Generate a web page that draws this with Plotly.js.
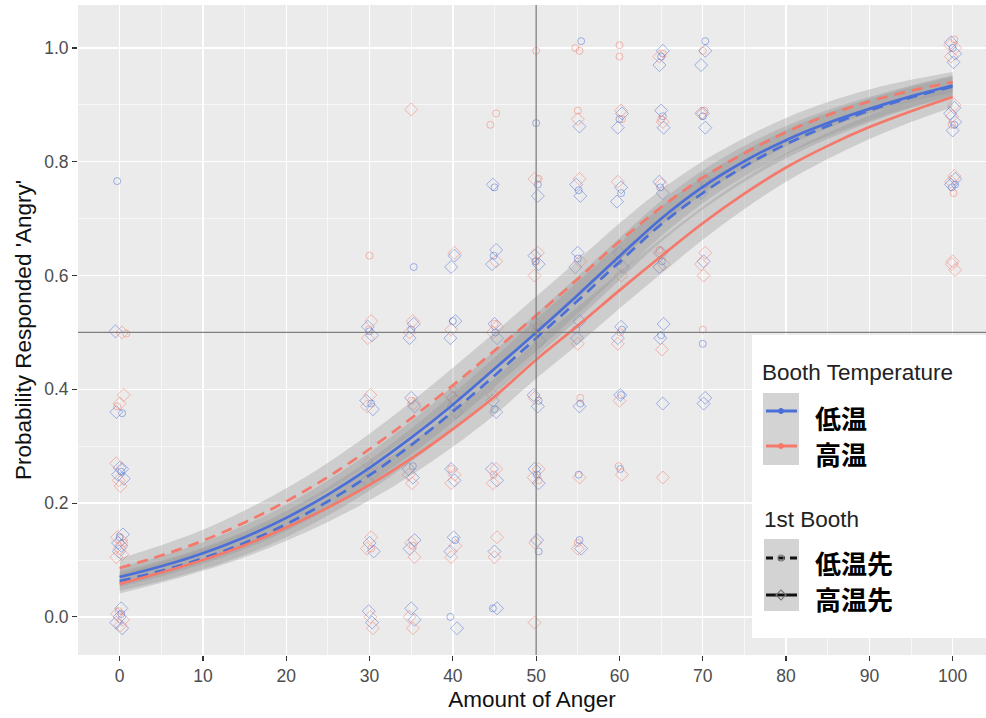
<!DOCTYPE html>
<html><head><meta charset="utf-8">
<script src="https://cdn.plot.ly/plotly-3.0.1.min.js"></script>
<style>body{margin:0;background:#fff}#chart{width:986px;height:718px}</style>
</head><body><div id="chart"></div>
<script>
// ---- fitted curves ----
const curveX = [0,5,10,15,20,25,30,35,40,45,50,55,60,65,70,75,80,85,90,95,100];
const lowTempLowFirst  = [0.063,0.081,0.103,0.130,0.163,0.203,0.249,0.302,0.361,0.424,0.490,0.556,0.624,0.690,0.745,0.792,0.831,0.863,0.890,0.913,0.932];
const lowTempHighFirst = [0.070,0.089,0.112,0.140,0.174,0.215,0.262,0.315,0.373,0.436,0.500,0.566,0.634,0.700,0.756,0.801,0.838,0.868,0.893,0.915,0.934];
const highTempLowFirst = [0.086,0.108,0.134,0.166,0.203,0.246,0.295,0.349,0.407,0.468,0.530,0.594,0.660,0.720,0.772,0.815,0.852,0.882,0.906,0.925,0.940];
const highTempHighFirst= [0.058,0.078,0.100,0.126,0.157,0.192,0.232,0.278,0.330,0.387,0.452,0.512,0.574,0.634,0.692,0.744,0.790,0.828,0.861,0.889,0.914];
const ciHalf = [0.017,0.018,0.019,0.021,0.023,0.025,0.027,0.029,0.031,0.032,0.033,0.033,0.032,0.031,0.029,0.027,0.025,0.023,0.021,0.019,0.018];

// ---- jittered observations ----
// blue (低温) diamonds (高温先)
const blueDiamondX = [-0.5,-0.4,0.3,-0.2,0.5,0.0,0.4,-0.2,0.2,-0.1,0.2,-0.4,0.0,0.3,
 29.8,30.3,29.6,30.4,30.2,29.7,30.0,30.5,29.9,30.3,
 35.3,34.8,35.0,35.4,34.7,35.2,35.4,34.8,35.0,35.4,
 40.2,39.8,40.3,39.7,40.0,40.4,39.8,40.2,40.1,39.7,40.5,
 44.8,45.2,44.7,45.0,45.3,44.8,45.2,44.7,45.3,45.0,45.3,
 50.2,49.8,50.3,50.0,50.4,49.7,50.2,49.8,50.3,50.1,
 55.2,54.8,55.3,55.0,54.7,55.2,54.9,55.2,55.4,
 60.3,59.8,60.2,59.7,60.0,60.4,60.2,59.8,60.1,
 65.2,64.8,65.0,65.3,64.8,65.2,65.0,64.8,65.3,64.9,65.2,
 70.3,69.8,70.0,70.3,70.2,69.8,70.1,70.3,70.1,
 99.8,100.3,100.1,99.7,100.3,100.0,100.2,100.3,99.8];
const blueDiamondY = [0.502,0.36,0.26,0.25,0.243,0.262,0.145,0.13,0.125,0.115,0.015,-0.01,0.0,-0.02,
 0.51,0.495,0.38,0.365,0.26,0.24,0.13,0.115,0.01,-0.01,
 0.515,0.49,0.385,0.37,0.26,0.245,0.135,0.12,0.015,-0.005,
 0.635,0.615,0.52,0.49,0.385,0.36,0.26,0.24,0.14,0.115,-0.02,
 0.76,0.645,0.62,0.515,0.49,0.38,0.36,0.26,0.24,0.115,0.015,
 0.74,0.635,0.62,0.515,0.485,0.39,0.37,0.26,0.235,0.135,
 0.862,0.76,0.74,0.64,0.615,0.52,0.49,0.37,0.12,
 0.885,0.86,0.755,0.73,0.64,0.615,0.51,0.49,0.39,
 0.995,0.97,0.89,0.86,0.765,0.745,0.64,0.615,0.515,0.49,0.375,
 0.995,0.97,0.885,0.86,0.765,0.745,0.625,0.385,0.375,
 1.01,0.99,0.975,0.885,0.87,0.855,0.895,0.77,0.76];
// blue (低温) circles (低温先)
const blueCircleX = [-0.3,0.3,0.2,0.0,0.2, 30.0,30.2, 35.3,35.0,35.2, 40.0,39.8,40.3,39.7,
 45.0,44.9,45.1,45.0,44.8, 50.0,50.2,49.9,50.0,50.3,50.1,50.3,
 55.4,55.1,55.0,54.8,55.3,55.1,55.2, 60.0,60.2,59.9,60.3,60.2,60.1,
 65.0,65.2,64.9,65.1,65.0, 70.3,70.0,70.2,70.0, 100.0,100.2,99.9,100.3];
const blueCircleY = [0.766,0.358,0.255,0.14,0.005, 0.502,0.375, 0.615,0.505,0.265, 0.52,0.37,0.135,0.0,
 0.755,0.635,0.5,0.365,0.015, 0.868,0.76,0.625,0.5,0.38,0.25,0.115,
 1.012,0.75,0.63,0.505,0.375,0.25,0.135, 0.875,0.745,0.625,0.505,0.39,0.26,
 0.985,0.88,0.755,0.625,0.495, 1.012,0.88,0.76,0.48, 1.0,0.865,0.755,0.76];
// red (高温) diamonds (高温先)
const redDiamondX = [0.3,0.5,0.0,-0.4,0.1,-0.1,-0.3,0.0,0.3,-0.4,0.2,-0.3,0.4,0.1,
 30.2,29.8,30.1,29.7,30.3,29.8,30.2,29.7,30.1,30.4,
 35.0,35.2,34.8,35.3,34.7,35.1,35.0,35.4,34.8,35.2,
 40.2,39.8,40.3,39.7,40.2,39.8,40.3,39.8,
 45.2,44.8,45.3,44.8,45.2,44.8,45.3,45.0,
 49.8,50.2,49.8,50.2,49.8,50.3,49.7,49.9,49.8,
 55.0,55.2,55.3,55.0,55.2,55.0,
 60.2,59.8,60.2,59.8,60.0,60.3,
 64.8,65.2,65.0,64.8,65.3,65.1,65.2,
 69.8,70.2,70.3,69.8,70.1,
 99.7,100.3,99.8,100.2,99.9,100.2,99.8,100.0,100.3,99.9];
const redDiamondY = [0.50,0.39,0.375,0.27,0.23,0.24,0.14,0.12,0.11,0.105,0.135,0.005,-0.005,-0.015,
 0.52,0.49,0.39,0.37,0.25,0.27,0.14,0.12,0.0,-0.02,
 0.892,0.52,0.5,0.375,0.25,0.235,0.13,0.105,0.0,-0.02,
 0.64,0.505,0.38,0.39,0.25,0.235,0.125,0.105,
 0.625,0.5,0.51,0.39,0.26,0.235,0.14,0.105,
 0.77,0.64,0.6,0.505,0.385,0.26,0.245,0.13,-0.01,
 0.875,0.77,0.625,0.48,0.245,0.12,
 0.89,0.765,0.6,0.48,0.38,0.25,
 0.985,0.87,0.76,0.64,0.62,0.47,0.245,
 0.885,0.77,0.64,0.62,0.6,
 1.005,1.0,0.985,0.9,0.88,0.775,0.765,0.625,0.61,0.62];
// red (高温) circles (低温先)
const redCircleX = [0.8,-0.3,0.5,-0.1, 30.0,29.9,30.2, 35.0,35.2, 40.0,39.8,
 44.5,45.2,45.0,44.9, 50.0,50.3,50.0,50.1,50.3, 54.7,55.2,55.0,55.3,55.0,
 60.0,60.0,60.3,60.1,59.9, 65.2,65.0,64.8, 70.0,70.2,70.0, 100.2,99.9,100.1];
const redCircleY = [0.498,0.37,0.13,0.01, 0.635,0.505,0.12, 0.38,0.125, 0.4,0.26,
 0.865,0.885,0.515,0.25, 0.995,0.77,0.625,0.51,0.24, 1.0,0.995,0.89,0.385,0.13,
 1.005,0.985,0.875,0.5,0.265, 0.99,0.875,0.645, 0.995,0.89,0.505, 1.015,0.865,0.745];

const refX = 50, refY = 0.5;
const xTicks = [0,10,20,30,40,50,60,70,80,90,100];
const yTicks = [0.0,0.2,0.4,0.6,0.8,1.0];

const BLUE = '#4B6FD6', RED = '#F4796B';
const BLUE_A = 'rgba(75,111,214,0.5)', RED_A = 'rgba(244,121,107,0.5)';
const FONT = 'Liberation Sans, Arial, sans-serif';
const CJK = 'Noto Sans CJK JP, sans-serif';

const traces = [];
function pts(x, y, sym, col, size){
  traces.push({type:'scatter', mode:'markers', x, y, hoverinfo:'skip', showlegend:false,
    marker:{symbol:sym, size, color:col, line:{width:1, color:col}}});
}
pts(blueDiamondX, blueDiamondY, 'diamond-open', BLUE_A, 10);
pts(redDiamondX, redDiamondY, 'diamond-open', RED_A, 10);
pts(blueCircleX, blueCircleY, 'circle-open', BLUE_A, 7);
pts(redCircleX, redCircleY, 'circle-open', RED_A, 7);

const curves = [
  {y: lowTempLowFirst,  color: BLUE, dash: '11px,7px'},
  {y: highTempLowFirst, color: RED,  dash: '11px,7px'},
  {y: lowTempHighFirst, color: BLUE, dash: 'solid'},
  {y: highTempHighFirst,color: RED,  dash: 'solid'}
];
curves.forEach(c => {
  const lo = c.y.map((v,i)=>v-ciHalf[i]);
  const hi = c.y.map((v,i)=>v+ciHalf[i]);
  traces.push({type:'scatter', mode:'lines', x:curveX, y:lo, line:{width:0, shape:'spline'}, hoverinfo:'skip', showlegend:false});
  traces.push({type:'scatter', mode:'lines', x:curveX, y:hi, line:{width:0, shape:'spline'}, fill:'tonexty',
    fillcolor:'rgba(150,150,150,0.35)', hoverinfo:'skip', showlegend:false});
});
curves.forEach(c => {
  traces.push({type:'scatter', mode:'lines', x:curveX, y:c.y, hoverinfo:'skip', showlegend:false,
    line:{color:c.color, width:2.7, dash:c.dash, shape:'spline'}});
});

// pixel -> paper helpers for legend (plot area: left 78, top 5, 908 x 650)
const PL = 78, PT = 5, PW = 908, PH = 650;
const px = v => (v - PL) / PW;
const py = v => (PT + PH - v) / PH;

const shapes = [
  {type:'line', xref:'paper', yref:'y', x0:0, x1:1, y0:refY, y1:refY, line:{color:'#7f7f7f', width:1.3}, layer:'above'},
  {type:'line', xref:'x', yref:'paper', x0:refX, x1:refX, y0:0, y1:1, line:{color:'#7f7f7f', width:1.3}, layer:'above'},
  // legend box
  {type:'rect', xref:'paper', yref:'paper', x0:px(752), x1:px(986), y0:py(638), y1:py(335), fillcolor:'#ffffff', line:{width:0}, layer:'above'},
  {type:'rect', xref:'paper', yref:'paper', x0:px(763), x1:px(799), y0:py(465), y1:py(393), fillcolor:'#D3D3D3', line:{width:0}, layer:'above'},
  {type:'line', xref:'paper', yref:'paper', x0:px(766), x1:px(797), y0:py(411), y1:py(411), line:{color:BLUE, width:3}, layer:'above'},
  {type:'circle', xref:'paper', yref:'paper', x0:px(778.5), x1:px(783.5), y0:py(413.5), y1:py(408.5), fillcolor:BLUE, line:{color:BLUE,width:1}, layer:'above'},
  {type:'line', xref:'paper', yref:'paper', x0:px(766), x1:px(797), y0:py(446), y1:py(446), line:{color:RED, width:3}, layer:'above'},
  {type:'circle', xref:'paper', yref:'paper', x0:px(778.5), x1:px(783.5), y0:py(448.5), y1:py(443.5), fillcolor:RED, line:{color:RED,width:1}, layer:'above'},
  {type:'rect', xref:'paper', yref:'paper', x0:px(764), x1:px(799), y0:py(611), y1:py(539), fillcolor:'#D3D3D3', line:{width:0}, layer:'above'},
  {type:'line', xref:'paper', yref:'paper', x0:px(766), x1:px(797), y0:py(558), y1:py(558), line:{color:'#111', width:3, dash:'7px,5px'}, layer:'above'},
  {type:'circle', xref:'paper', yref:'paper', x0:px(778), x1:px(784), y0:py(561), y1:py(555), fillcolor:'rgba(0,0,0,0)', line:{color:'#777',width:1.2}, layer:'above'},
  {type:'line', xref:'paper', yref:'paper', x0:px(766), x1:px(797), y0:py(595), y1:py(595), line:{color:'#111', width:3}, layer:'above'},
  {type:'path', xref:'paper', yref:'paper', path:`M ${px(781)} ${py(590)} L ${px(786)} ${py(595)} L ${px(781)} ${py(600)} L ${px(776)} ${py(595)} Z`, line:{color:'#777',width:1.2}, layer:'above'}
];

const ann = (text, x, y, size, fam, bold, color) => ({xref:'paper', yref:'paper', x:px(x), y:py(y), xanchor:'left', yanchor:'middle', showarrow:false,
  text: bold ? '<b>'+text+'</b>' : text, font:{size, family:fam, color}});
const annotations = [
  ann('Booth Temperature', 760, 372, 22.5, FONT, false, '#222'),
  ann('低温', 813, 417, 26, CJK, true, '#000'),
  ann('高温', 813, 453, 26, CJK, true, '#000'),
  ann('1st Booth', 762, 519, 22.5, FONT, false, '#222'),
  ann('低温先', 813, 562, 26, CJK, true, '#000'),
  ann('高温先', 813, 598, 26, CJK, true, '#000')
];

const layout = {
  width:986, height:718,
  margin:{l:PL, r:0, t:PT, b:718-PT-PH},
  paper_bgcolor:'#ffffff', plot_bgcolor:'#EBEBEB',
  showlegend:false,
  font:{family:FONT},
  xaxis:{range:[-5,104], tickvals:xTicks, ticktext:xTicks.map(String), showgrid:true, gridcolor:'#ffffff', gridwidth:1.3,
    minor:{dtick:5, tick0:0, showgrid:true, gridcolor:'#ffffff', gridwidth:0.6},
    zeroline:false, showline:false, ticks:'outside', ticklen:5, tickwidth:1.2, tickcolor:'#333',
    tickfont:{size:17.5, color:'#4d4d4d', family:FONT},
    title:{text:'Amount of Anger', font:{size:22.5, color:'#111', family:FONT}, standoff:6}},
  yaxis:{range:[-0.067,1.0756], tickvals:yTicks, ticktext:yTicks.map(v=>v.toFixed(1)), showgrid:true, gridcolor:'#ffffff', gridwidth:1.3,
    minor:{dtick:0.1, tick0:0, showgrid:true, gridcolor:'#ffffff', gridwidth:0.6},
    zeroline:false, showline:false, ticks:'outside', ticklen:5, tickwidth:1.2, tickcolor:'#333',
    tickfont:{size:17.5, color:'#4d4d4d', family:FONT},
    title:{text:"Probability Responded 'Angry'", font:{size:22.5, color:'#111', family:FONT}, standoff:6}},
  shapes, annotations
};
Plotly.newPlot('chart', traces, layout, {staticPlot:true, displayModeBar:false});
</script></body></html>
